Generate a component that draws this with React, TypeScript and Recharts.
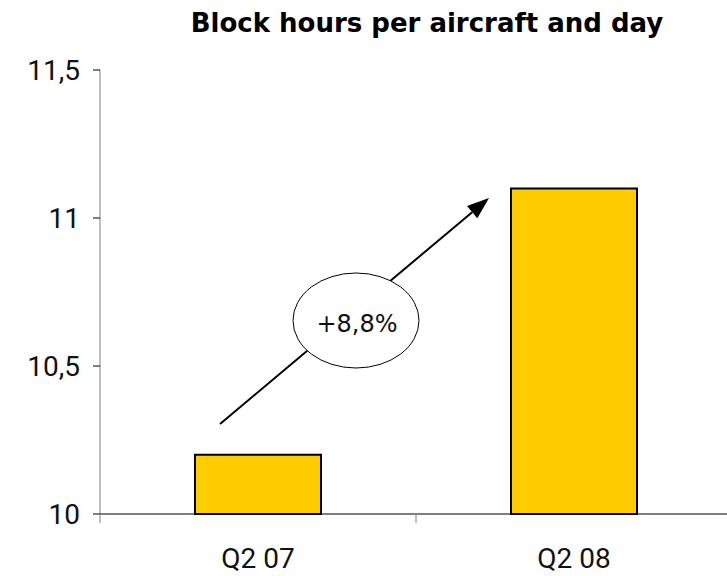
import React from "react";
import { BarChart, Bar, XAxis, YAxis } from "recharts";

const quarters = ["Q2 07", "Q2 08"];
const blockHours = [10.2, 11.1];
const yTicks = [10, 10.5, 11, 11.5];
const title = "Block hours per aircraft and day";
const growthLabel = "+8,8%";

const data = quarters.map((q, i) => ({ quarter: q, hours: blockHours[i] }));

const W = 740;
const H = 576;
const AXIS_W = 100;
const AXIS_H = 62;
const TOP = 70;
const BAND = (W - AXIS_W - 8) / quarters.length;

const fmtY = (v: number) => String(v).replace(".", ",");

// category label under the bar plus boundary ticks between categories
function QuarterTick(props: any) {
  const { x, y, payload, index } = props;
  const half = BAND / 2;
  return (
    <g>
      <line x1={x - half} x2={x - half} y1={y} y2={y + 9} stroke="#808080" strokeWidth={1} />
      {index === quarters.length - 1 && (
        <line x1={x + half} x2={x + half} y1={y} y2={y + 9} stroke="#808080" strokeWidth={1} />
      )}
      <text x={x} y={y + 54} textAnchor="middle" fontFamily="Roboto" fontSize={28} fill="#111">
        {payload.value}
      </text>
    </g>
  );
}

function GrowthArrow() {
  const x1 = 220, y1 = 424, x2 = 489, y2 = 198;
  const len = Math.hypot(x2 - x1, y2 - y1);
  const ux = (x2 - x1) / len, uy = (y2 - y1) / len;
  const head = 22, hw = 8;
  const bx = x2 - ux * head, by = y2 - uy * head;
  const pts = `${x2},${y2} ${bx - uy * hw},${by + ux * hw} ${bx + uy * hw},${by - ux * hw}`;
  return (
    <g>
      <line x1={x1} y1={y1} x2={bx} y2={by} stroke="#000" strokeWidth={2} />
      <polygon points={pts} fill="#000" />
      <ellipse cx={356} cy={320.5} rx={63} ry={47.5} fill="#fff" stroke="#000" strokeWidth={1} />
      <text x={357} y={332} textAnchor="middle" fontFamily="DejaVu Sans" fontSize={24} fill="#111">
        {growthLabel}
      </text>
    </g>
  );
}

export default function App() {
  return (
    <div style={{ position: "absolute", left: 0, top: 0, width: 727, height: 576, overflow: "hidden", background: "#fff" }}>
      <BarChart width={W} height={H} data={data} margin={{ top: TOP, right: 8, bottom: 0, left: 0 }}>
        <text x={427} y={32} textAnchor="middle" fontFamily="DejaVu Sans" fontWeight="bold" fontSize={26} fill="#000">
          {title}
        </text>
        <YAxis
          width={AXIS_W}
          domain={[10, 11.5]}
          ticks={yTicks}
          tickFormatter={fmtY}
          axisLine={{ stroke: "#808080", strokeWidth: 1 }}
          tickLine={{ stroke: "#000", strokeWidth: 1 }}
          tickSize={7}
          tickMargin={13}
          tick={{ fontFamily: "Roboto", fontSize: 28, fill: "#111" }}
        />
        <XAxis
          dataKey="quarter"
          height={AXIS_H}
          axisLine={{ stroke: "#000", strokeWidth: 1 }}
          tickLine={false}
          tickSize={0}
          tickMargin={0}
          interval={0}
          tick={<QuarterTick />}
        />
        <Bar dataKey="hours" fill="#FFCC00" stroke="#000" strokeWidth={2} barSize={126} isAnimationActive={false} />
        <GrowthArrow />
      </BarChart>
    </div>
  );
}
